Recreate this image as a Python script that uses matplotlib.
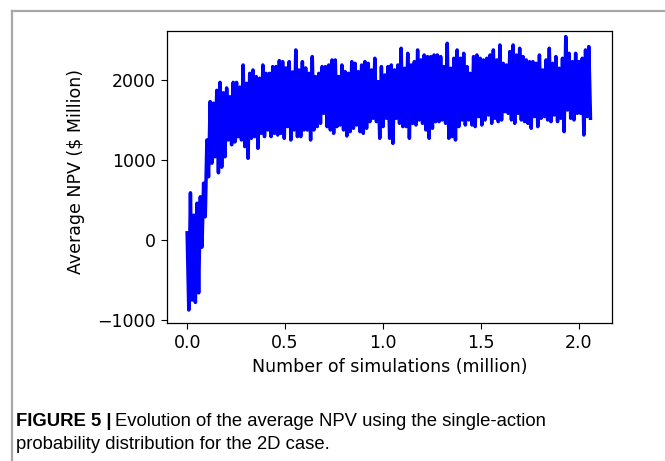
import numpy as np
import matplotlib.pyplot as plt
from matplotlib.lines import Line2D

plt.rcParams['font.family'] = ['DejaVu Sans']

# Running average NPV ($ million): highest / lowest reading in each
# recording window, in simulation order
npv_high = [
    90, 590, 310, 460, 540, 710, 1250, 1730, 1710, 1870, 1970, 1840, 1900,
    1790, 1970, 1970, 1910,
    2187, 1958, 2083, 2125, 2042, 2021, 2187, 2083, 2083, 2167, 2167, 2242,
    2229, 2150, 2229, 2100, 2375, 2125, 2229, 2150, 2083, 2292, 2042, 2083,
    2167, 2167,
    2187, 2250, 2250, 2042, 2187, 2104, 2083, 2229, 2208, 2104, 2187, 2229,
    2208, 2125, 2271, 1979, 2167, 2062, 2167, 2187, 2125, 2187, 2396, 2146,
    2333, 2187, 2229,
    2375, 2250, 2312, 2292, 2292, 2312, 2312, 2292, 2167, 2458, 2146, 2271,
    2375, 2271, 2333, 2167, 2083, 2292, 2312, 2271, 2250, 2271, 2312, 2375,
    2250, 2437,
    2208, 2187, 2354, 2437, 2312, 2396, 2292, 2250, 2229, 2229, 2208, 2312,
    2125, 2250, 2396, 2208, 2292, 2146, 2271, 2542, 2333, 2229, 2333, 2229,
    2271, 2375, 2417,
]
npv_low = [
    -875, -750, -780, -660, -90, 290, 790, 960, 1040, 840, 910, 1040, 1250,
    1190, 1225, 1290, 1250,
    1167, 1021, 1271, 1292, 1146, 1333, 1292, 1375, 1292, 1333, 1312, 1333,
    1271, 1417, 1250, 1375, 1292, 1292, 1375, 1375, 1250, 1375, 1417, 1458,
    1583, 1417,
    1375, 1333, 1417, 1437, 1375, 1300, 1354, 1396, 1437, 1354, 1333, 1396,
    1479, 1521, 1479, 1271, 1417, 1521, 1271, 1208, 1521, 1458, 1417, 1417,
    1271, 1458, 1437,
    1500, 1458, 1375, 1271, 1396, 1479, 1479, 1500, 1458, 1271, 1292, 1250,
    1417, 1500, 1437, 1500, 1437, 1417, 1542, 1437, 1500, 1562, 1458, 1521,
    1479, 1500,
    1604, 1583, 1500, 1458, 1583, 1500, 1479, 1458, 1396, 1542, 1417, 1521,
    1542, 1500, 1479, 1562, 1479, 1521, 1354, 1625, 1521, 1500, 1583, 1583,
    1312, 1542, 1521,
]
last_sim = 2.06  # million simulations
xticks = [0.0, 0.5, 1.0, 1.5, 2.0]
yticks = [-1000, 0, 1000, 2000]

npv = np.column_stack([npv_high, npv_low]).ravel()
sims = np.linspace(0, last_sim, len(npv))

fig = plt.figure(figsize=(6.65, 4.61), dpi=100)
ax = fig.add_axes([0.2511, 0.2994, 0.6692, 0.6334])

ax.plot(sims, npv, color='#0000ff', linewidth=2.5, solid_joinstyle='round')

ax.set_xlim(-0.103, 2.17)
ax.set_ylim(-1037, 2612)
ax.set_xticks(xticks)
ax.set_xticklabels([f'{t:.1f}' for t in xticks])
ax.set_yticks(yticks)
ax.tick_params(labelsize=12.5, length=4, width=0.8, direction='out', pad=4)
ax.set_xlabel('Number of simulations (million)', fontsize=12.5, labelpad=4)
ax.set_ylabel('Average NPV ($ Million)', fontsize=12.5)
ax.yaxis.set_label_coords(-0.185, 0.52)
for s in ax.spines.values():
    s.set_linewidth(0.9)

# panel frame (top and left edges)
frame = '#a8a8a8'
fig.add_artist(Line2D([0.018, 1.0], [0.977, 0.977], color=frame, lw=1.6,
                      transform=fig.transFigure))
fig.add_artist(Line2D([0.018, 0.018], [0.0, 0.977], color=frame, lw=1.6,
                      transform=fig.transFigure))

# caption
cap_font = ['Liberation Sans', 'DejaVu Sans']
cap_y = 1 - 421 / 461
t = fig.text(0.024, cap_y, 'FIGURE 5 |', fontsize=13.3, fontweight='bold',
             family=cap_font, va='center', ha='left')
fig.canvas.draw()
bb = t.get_window_extent()
x_after = bb.x1 / fig.bbox.width + 0.006
fig.text(x_after, cap_y, 'Evolution of the average NPV using the single-action',
         fontsize=13.3, family=cap_font, va='center', ha='left')
fig.text(0.024, 1 - 444.5 / 461, 'probability distribution for the 2D case.',
         fontsize=13.3, family=cap_font, va='center', ha='left')

fig.savefig('out.png', dpi=100)
